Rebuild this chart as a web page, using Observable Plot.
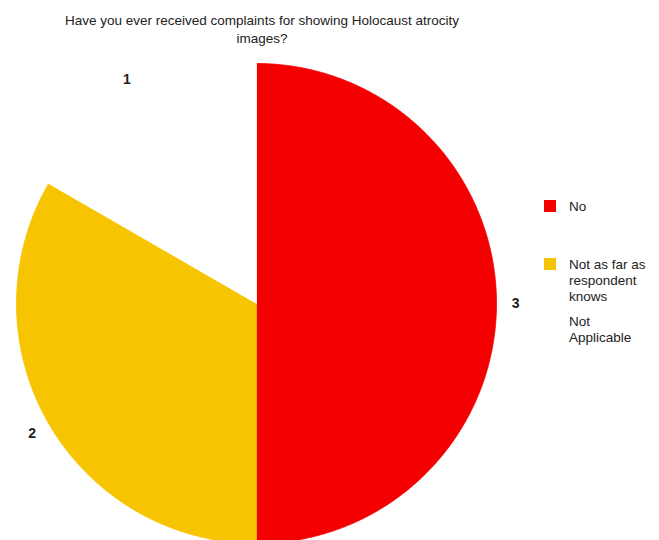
<!DOCTYPE html>
<html>
<head>
<meta charset="utf-8">
<script src="https://cdn.jsdelivr.net/npm/d3@7"></script>
<script src="https://cdn.jsdelivr.net/npm/@observablehq/plot@0.6"></script>
<style>
  html, body { margin: 0; padding: 0; background: #fff; }
  #wrap { position: relative; width: 659px; height: 540px; overflow: hidden; font-family: "Liberation Sans", Arial, sans-serif; }
  #title { position: absolute; left: 62px; top: 12px; width: 400px; text-align: center; font-size: 13.5px; line-height: 18px; color: #222; }
  #chart { position: absolute; left: 0; top: 56px; }
  .leg { position: absolute; font-size: 13.5px; line-height: 16px; color: #222; }
  .sw { position: absolute; width: 12px; height: 12px; }
</style>
</head>
<body>
<div id="wrap">
  <div id="title">Have you ever received complaints for showing Holocaust atrocity images?</div>
  <div id="chart"></div>
  <div id="legend"></div>
</div>
<script>
const categories = ["No", "Not as far as respondent knows", "Not Applicable"];
const values = [3, 2, 1];
const sliceLabels = ["3", "2", "1"];
const colors = ["#f40000", "#f6c400", "#ffffff"];

const W = 659, H = 484;
const cx = 256, cy = 247, R = 240;

const pie = d3.pie().sort(null).startAngle(0).endAngle(2 * Math.PI)(values);

// polygon outline points for each slice, derived from the pie layout
const pts = [];
pie.forEach((p, i) => {
  const n = Math.max(2, Math.ceil((p.endAngle - p.startAngle) / 0.01));
  pts.push({cat: categories[i], x: 0, y: 0});
  for (let k = 0; k <= n; k++) {
    const a = p.startAngle + (p.endAngle - p.startAngle) * k / n;
    pts.push({cat: categories[i], x: Math.sin(a), y: Math.cos(a)});
  }
  pts.push({cat: categories[i], x: 0, y: 0});
});

const labelData = pie.map((p, i) => {
  const a = (p.startAngle + p.endAngle) / 2;
  return {label: sliceLabels[i], x: 1.08 * Math.sin(a), y: 1.08 * Math.cos(a)};
});

const chart = Plot.plot({
  width: W,
  height: H,
  margin: 0,
  x: {domain: [-1, 1], range: [cx - R, cx + R], axis: null},
  y: {domain: [-1, 1], range: [cy + R, cy - R], axis: null},
  color: {domain: categories, range: colors},
  style: {fontFamily: "Liberation Sans, Arial, sans-serif"},
  marks: [
    Plot.line(pts, {x: "x", y: "y", z: "cat", fill: "cat", stroke: "cat", strokeWidth: 0.8, curve: "linear"}),
    Plot.text(labelData, {x: "x", y: "y", text: "label", fontSize: 14, fontWeight: "bold", fill: "#222"})
  ]
});
document.getElementById("chart").appendChild(chart);

// legend
const legend = document.getElementById("legend");
const legendRows = [
  {text: categories[0], color: colors[0], top: 199},
  {text: "Not as far as<br>respondent<br>knows", color: colors[1], top: 257},
  {text: "Not<br>Applicable", color: null, top: 314}
];
legendRows.forEach(r => {
  if (r.color) {
    const s = document.createElement("div");
    s.className = "sw";
    s.style.left = "544px";
    s.style.top = (r.top + 1) + "px";
    s.style.background = r.color;
    legend.appendChild(s);
  }
  const t = document.createElement("div");
  t.className = "leg";
  t.style.left = "569px";
  t.style.top = r.top + "px";
  t.innerHTML = r.text;
  legend.appendChild(t);
});
</script>
</body>
</html>
